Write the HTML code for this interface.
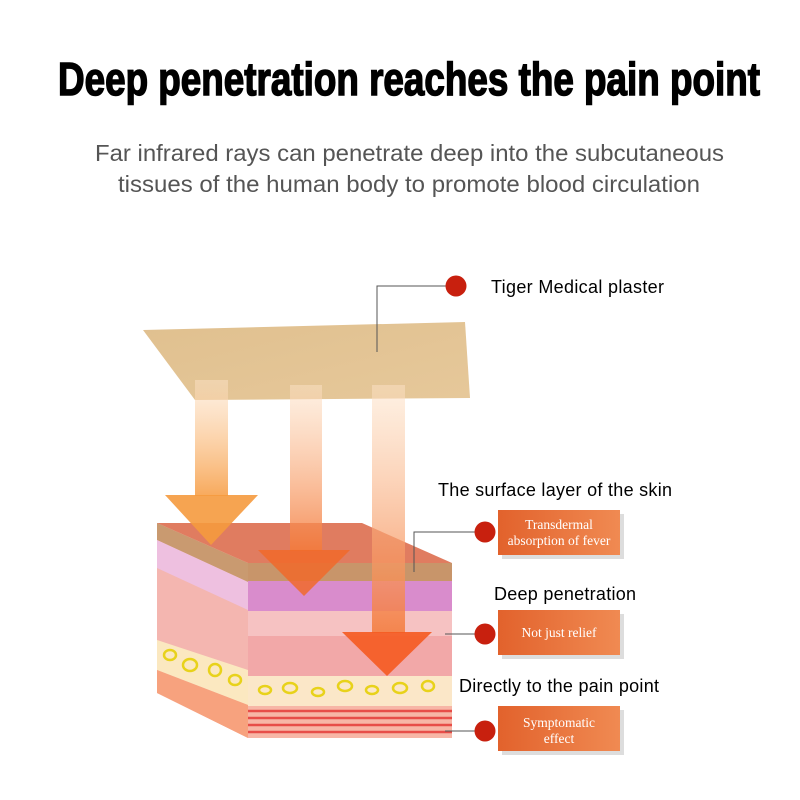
<!DOCTYPE html>
<html><head><meta charset="utf-8"><style>
html,body{margin:0;padding:0;background:#fff;}
svg{display:block}
</style></head><body>
<svg width="800" height="800" viewBox="0 0 800 800" xmlns="http://www.w3.org/2000/svg">
<defs>
<linearGradient id="ar" x1="0" y1="0" x2="0" y2="1">
<stop offset="0" stop-color="#fde3c8" stop-opacity="0.5"/>
<stop offset="1" stop-color="#f7a04a" stop-opacity="0.9"/>
</linearGradient>
<linearGradient id="ar2" x1="0" y1="0" x2="0" y2="1">
<stop offset="0" stop-color="#fde3c8" stop-opacity="0.5"/>
<stop offset="1" stop-color="#f47a3a" stop-opacity="0.85"/>
</linearGradient>
<linearGradient id="box" x1="0" y1="0" x2="1" y2="0">
<stop offset="0" stop-color="#e2622c"/>
<stop offset="1" stop-color="#f08a52"/>
</linearGradient>
<linearGradient id="pl" x1="0" y1="0" x2="1" y2="1">
<stop offset="0" stop-color="#e0c08f"/>
<stop offset="1" stop-color="#e6c89a"/>
</linearGradient>
</defs>
<text x="58" y="95" textLength="702" lengthAdjust="spacingAndGlyphs" font-family="Liberation Sans, sans-serif" font-weight="bold" font-size="46" fill="#000" stroke="#000" stroke-width="1.5">Deep penetration reaches the pain point</text>
<text x="95" y="161" textLength="629" lengthAdjust="spacingAndGlyphs" font-family="Liberation Sans, sans-serif" font-size="23" fill="#555">Far infrared rays can penetrate deep into the subcutaneous</text>
<text x="118" y="192" textLength="582" lengthAdjust="spacingAndGlyphs" font-family="Liberation Sans, sans-serif" font-size="23" fill="#555">tissues of the human body to promote blood circulation</text>

<!-- plaster -->
<polygon points="143,330 465,322 470,398 195,400" fill="url(#pl)"/>

<!-- cube left face -->
<polygon points="157,523 248,563 248,738 157,693" fill="#f4b6b0"/>
<polygon points="157,523 248,563 248,582 157,540" fill="#c99a70"/>
<polygon points="157,540 248,582 248,610 157,568" fill="#eec0e0"/>
<polygon points="157,640 248,670 248,705 157,670" fill="#fbe8c0"/>
<polygon points="157,670 248,705 248,738 157,693" fill="#f7a27e"/>
<!-- front face -->
<rect x="248" y="563" width="204" height="175" fill="#f2a8a8"/>
<rect x="248" y="563" width="204" height="18" fill="#c8956a"/>
<rect x="248" y="581" width="204" height="30" fill="#d98ccc"/>
<rect x="248" y="611" width="204" height="25" fill="#f6c2c2"/>
<rect x="248" y="676" width="204" height="30" fill="#fbe7c8"/>
<rect x="248" y="706" width="204" height="32" fill="#f7b6a6"/>
<g stroke="#e74d48" stroke-width="2.5">
<line x1="248" y1="711" x2="452" y2="711"/><line x1="248" y1="718" x2="452" y2="718"/>
<line x1="248" y1="725" x2="452" y2="725"/><line x1="248" y1="732" x2="452" y2="732"/>
</g>
<g fill="none" stroke="#e8d21a" stroke-width="2.5">
<ellipse cx="265" cy="690" rx="6" ry="4"/><ellipse cx="290" cy="688" rx="7" ry="5"/><ellipse cx="318" cy="692" rx="6" ry="4"/><ellipse cx="345" cy="686" rx="7" ry="5"/><ellipse cx="372" cy="690" rx="6" ry="4"/><ellipse cx="400" cy="688" rx="7" ry="5"/><ellipse cx="428" cy="686" rx="6" ry="5"/>
<ellipse cx="170" cy="655" rx="6" ry="5"/><ellipse cx="190" cy="665" rx="7" ry="6"/><ellipse cx="215" cy="670" rx="6" ry="6"/><ellipse cx="235" cy="680" rx="6" ry="5"/>
</g>
<!-- top face -->
<polygon points="157,523 362,523 452,563 248,563" fill="#e07c60"/>

<!-- arrows -->
<g>
<rect x="195" y="380" width="33" height="116" fill="url(#ar)"/>
<polygon points="165,495 258,495 211,545" fill="#f59a3e" opacity="0.9"/>
<rect x="290" y="385" width="32" height="166" fill="url(#ar2)"/>
<polygon points="258,550 350,550 304,596" fill="#f06a2a" opacity="0.85"/>
<rect x="372" y="385" width="33" height="248" fill="url(#ar2)"/>
<polygon points="342,632 432,632 387,676" fill="#f55a20" opacity="0.9"/>
</g>

<!-- connectors -->
<g stroke="#555" stroke-width="1" fill="none">
<polyline points="456,286 377,286 377,352"/>
<polyline points="485,532 414,532 414,572"/>
<line x1="445" y1="634" x2="485" y2="634"/>
<line x1="445" y1="731" x2="485" y2="731"/>
</g>
<g fill="#c8200e">
<circle cx="456" cy="286" r="10.5"/>
<circle cx="485" cy="532" r="10.5"/>
<circle cx="485" cy="634" r="10.5"/>
<circle cx="485" cy="731" r="10.5"/>
</g>
<g font-family="Liberation Sans, sans-serif" font-size="18" fill="#000" lengthAdjust="spacingAndGlyphs">
<text x="491" y="293" textLength="173">Tiger Medical plaster</text>
<text x="438" y="496" textLength="234">The surface layer of the skin</text>
<text x="494" y="600" textLength="142">Deep penetration</text>
<text x="459" y="692" textLength="200">Directly to the pain point</text>
</g>
<!-- boxes -->
<g>
<rect x="502" y="514" width="122" height="45" fill="#bbb" opacity="0.5"/>
<rect x="498" y="510" width="122" height="45" fill="url(#box)"/>
<rect x="502" y="614" width="122" height="45" fill="#bbb" opacity="0.5"/>
<rect x="498" y="610" width="122" height="45" fill="url(#box)"/>
<rect x="502" y="710" width="122" height="45" fill="#bbb" opacity="0.5"/>
<rect x="498" y="706" width="122" height="45" fill="url(#box)"/>
</g>
<g font-family="Liberation Serif, serif" font-size="13.5" fill="#fff" text-anchor="middle">
<text x="559" y="529">Transdermal</text>
<text x="559" y="545">absorption of fever</text>
<text x="559" y="637">Not just relief</text>
<text x="559" y="727">Symptomatic</text>
<text x="559" y="743">effect</text>
</g>
</svg>
</body></html>
